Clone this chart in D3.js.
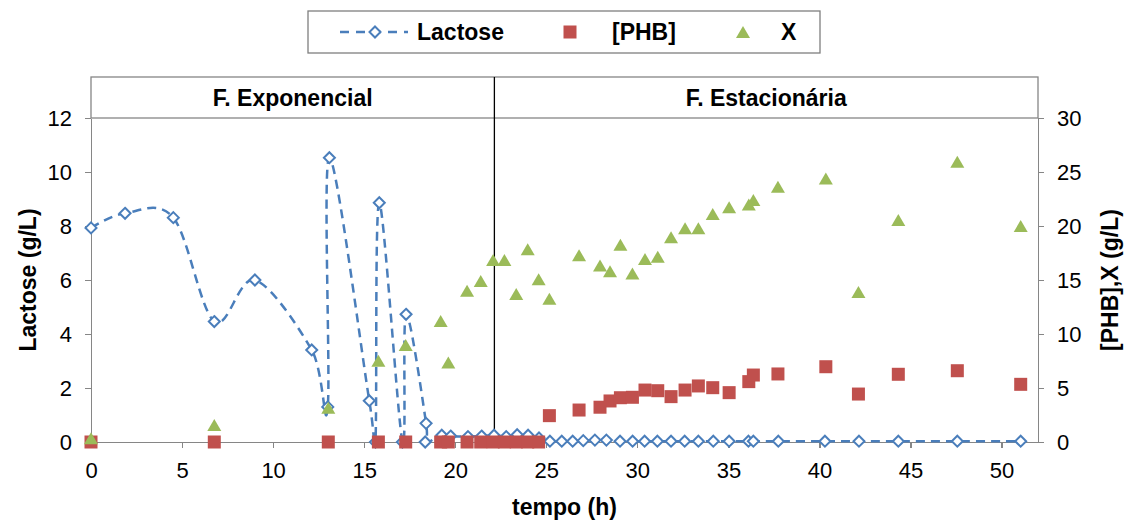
<!DOCTYPE html>
<html>
<head>
<meta charset="utf-8">
<script src="https://cdn.jsdelivr.net/npm/d3@7"></script>
<style>
    body { margin: 0; background: #fff; }
    svg { font-family: "Liberation Sans", Arial, sans-serif; }
    .axis path, .axis line { stroke: #868686; stroke-width: 1.3; shape-rendering: crispEdges; }
    .axis text { font-size: 22px; fill: #000; }
    .title { font-size: 23px; font-weight: bold; fill: #000; }
</style>
</head>
<body>
<script>
// lactose (g/L)
var lactoseTime = [0, 1.87, 4.52, 6.77, 9.0, 12.12, 13.0, 13.09, 15.28, 15.62, 15.83, 17.1, 17.3, 18.4, 18.35,
    19.26, 19.75, 20.7, 21.45, 22.13, 22.8, 23.4, 24.0, 24.6, 25.2, 25.85, 26.45, 27.03, 27.67, 28.3,
    29.05, 29.74, 30.4, 31.1, 31.85, 32.6, 33.35, 34.17, 35.04, 36.1, 36.37, 37.74, 40.3, 42.17, 44.33, 47.57, 51.05];
var lactose = [7.93, 8.47, 8.31, 4.46, 6.0, 3.41, 1.3, 10.53, 1.53, 0.0, 8.86, 0.0, 4.73, 0.69, 0.0,
    0.25, 0.22, 0.2, 0.22, 0.25, 0.2, 0.27, 0.25, 0.15, 0.03, 0.03, 0.03, 0.05, 0.07, 0.07,
    0.03, 0.03, 0.03, 0.03, 0.03, 0.03, 0.03, 0.03, 0.03, 0.03, 0.03, 0.03, 0.03, 0.03, 0.03, 0.03, 0.03];

// [PHB] and X share sampling times
var sampleTime = [0, 6.77, 13.03, 15.78, 17.28, 19.2, 19.62, 20.65, 21.4, 22.08, 22.7, 23.35, 23.98, 24.58,
    25.17, 26.8, 27.95, 28.5, 29.07, 29.73, 30.42, 31.12, 31.85, 32.62, 33.35, 34.14, 35.04, 36.12, 36.37,
    37.72, 40.35, 42.14, 44.33, 47.57, 51.05];
var phb = [0, 0, 0, 0, 0, 0, 0, 0, 0, 0, 0, 0, 0, 0,
    2.44, 2.96, 3.22, 3.8, 4.1, 4.14, 4.81, 4.75, 4.2, 4.81, 5.19, 5.03, 4.57, 5.59, 6.2,
    6.3, 6.97, 4.44, 6.27, 6.6, 5.34];
var biomass = [0.35, 1.57, 3.18, 7.53, 8.98, 11.2, 7.35, 14.0, 14.9, 16.85, 16.85, 13.7, 17.85, 15.06,
    13.27, 17.3, 16.35, 15.8, 18.27, 15.6, 16.94, 17.16, 18.95, 19.8, 19.8, 21.1, 21.73, 22.0, 22.4,
    23.64, 24.4, 13.9, 20.56, 25.95, 20.0];

var xTicks = [0, 5, 10, 15, 20, 25, 30, 35, 40, 45, 50],
    leftTicks = [0, 2, 4, 6, 8, 10, 12],
    rightTicks = [0, 5, 10, 15, 20, 25, 30];

var phaseSplit = 22.15,
    phaseLabels = ["F. Exponencial", "F. Estacionária"],
    legendLabels = ["Lactose", "[PHB]", "X"];

var _width = 1126,
    _height = 520,
    _margins = {top: 118, left: 91, right: 88, bottom: 78},
    _blue = "#4a7ebb", _red = "#c0504d", _green = "#9bbb59";

var _x = d3.scaleLinear().domain([0, 52]).range([xStart(), xEnd()]),
    _yL = d3.scaleLinear().domain([0, 12]).range([yStart(), yEnd()]),
    _yR = d3.scaleLinear().domain([0, 30]).range([yStart(), yEnd()]);

var _svg = d3.select("body").append("svg")
    .attr("width", _width)
    .attr("height", _height);

function xStart() { return _margins.left; }
function xEnd() { return _width - _margins.right; }
function yStart() { return _height - _margins.bottom; }
function yEnd() { return _margins.top; }

function diamond(g, cx, cy) {
    g.append("path")
        .attr("d", "M" + cx + "," + (cy - 5.5) + "L" + (cx + 5.5) + "," + cy + "L" + cx + "," + (cy + 5.5) + "L" + (cx - 5.5) + "," + cy + "Z")
        .attr("fill", "#fff")
        .attr("stroke", _blue)
        .attr("stroke-width", 2);
}

function square(g, cx, cy) {
    g.append("rect")
        .attr("x", cx - 6.5).attr("y", cy - 6.5)
        .attr("width", 13).attr("height", 13)
        .attr("fill", _red);
}

function triangle(g, cx, cy) {
    g.append("path")
        .attr("d", "M" + cx + "," + (cy - 6) + "L" + (cx + 7) + "," + (cy + 6) + "L" + (cx - 7) + "," + (cy + 6) + "Z")
        .attr("fill", _green);
}

function renderPhases() {
    var g = _svg.append("g").attr("class", "phases");
    g.append("rect")
        .attr("x", xStart()).attr("y", 77)
        .attr("width", xEnd() - xStart()).attr("height", yEnd() - 77)
        .attr("fill", "none").attr("stroke", "#868686").attr("stroke-width", 1.3);
    g.append("line")
        .attr("x1", _x(phaseSplit)).attr("x2", _x(phaseSplit))
        .attr("y1", 77).attr("y2", yStart())
        .attr("stroke", "#000").attr("stroke-width", 1.3);
    var mids = [(xStart() + _x(phaseSplit)) / 2, (_x(phaseSplit) + xEnd()) / 2];
    phaseLabels.forEach(function(t, i) {
        g.append("text").attr("class", "title")
            .attr("x", mids[i]).attr("y", 98).attr("dy", "0.35em")
            .attr("text-anchor", "middle").text(t);
    });
}

function renderAxes() {
    var axesG = _svg.append("g").attr("class", "axes");

    axesG.append("g").attr("class", "axis")
        .attr("transform", "translate(0," + yStart() + ")")
        .call(d3.axisBottom(_x).tickValues(xTicks).tickSizeInner(6).tickSizeOuter(0).tickPadding(14));

    axesG.append("g").attr("class", "axis")
        .attr("transform", "translate(" + xStart() + ",0)")
        .call(d3.axisLeft(_yL).tickValues(leftTicks).tickSizeInner(6).tickSizeOuter(0).tickPadding(13));

    axesG.append("g").attr("class", "axis")
        .attr("transform", "translate(" + xEnd() + ",0)")
        .call(d3.axisRight(_yR).tickValues(rightTicks).tickSizeInner(6).tickSizeOuter(0).tickPadding(13));

    axesG.append("text").attr("class", "title")
        .attr("x", (xStart() + xEnd()) / 2).attr("y", 507).attr("dy", "0.35em")
        .attr("text-anchor", "middle").text("tempo (h)");
    axesG.append("text").attr("class", "title")
        .attr("transform", "translate(28," + (yStart() + yEnd()) / 2 + ") rotate(-90)")
        .attr("dy", "0.35em").attr("text-anchor", "middle").text("Lactose (g/L)");
    axesG.append("text").attr("class", "title")
        .attr("transform", "translate(1110," + (yStart() + yEnd()) / 2 + ") rotate(-90)")
        .attr("dy", "0.35em").attr("text-anchor", "middle").text("[PHB],X (g/L)");
}

function renderBody() {
    _svg.append("defs").append("clipPath").attr("id", "body-clip")
        .append("rect")
        .attr("x", xStart()).attr("y", yEnd())
        .attr("width", xEnd() - xStart()).attr("height", yStart() - yEnd() + 1);

    var bodyG = _svg.append("g").attr("class", "body");
    var pts = lactoseTime.map(function(t, i) { return [_x(t), _yL(lactose[i])]; });

    bodyG.append("path")
        .attr("d", d3.line().curve(d3.curveCardinal.tension(0))(pts))
        .attr("clip-path", "url(#body-clip)")
        .attr("fill", "none")
        .attr("stroke", _blue)
        .attr("stroke-width", 2.5)
        .attr("stroke-dasharray", "9,6");

    pts.forEach(function(p) { diamond(bodyG, p[0], p[1]); });
    sampleTime.forEach(function(t, i) { square(bodyG, _x(t), _yR(phb[i])); });
    sampleTime.forEach(function(t, i) { triangle(bodyG, _x(t), _yR(biomass[i])); });
}

function renderLegend() {
    var g = _svg.append("g").attr("class", "legend");
    g.append("rect")
        .attr("x", 308).attr("y", 11).attr("width", 512).attr("height", 42)
        .attr("fill", "#fff").attr("stroke", "#7f7f7f").attr("stroke-width", 1.3);
    g.append("line")
        .attr("x1", 340).attr("x2", 408).attr("y1", 32).attr("y2", 32)
        .attr("stroke", _blue).attr("stroke-width", 2.5).attr("stroke-dasharray", "9,7");
    diamond(g, 375, 32);
    square(g, 570, 32);
    triangle(g, 743, 32);
    var xs = [417, 612, 781];
    legendLabels.forEach(function(t, i) {
        g.append("text").attr("class", "title")
            .attr("x", xs[i]).attr("y", 32).attr("dy", "0.35em").text(t);
    });
}

renderPhases();
renderAxes();
renderBody();
renderLegend();
</script>
</body>
</html>
